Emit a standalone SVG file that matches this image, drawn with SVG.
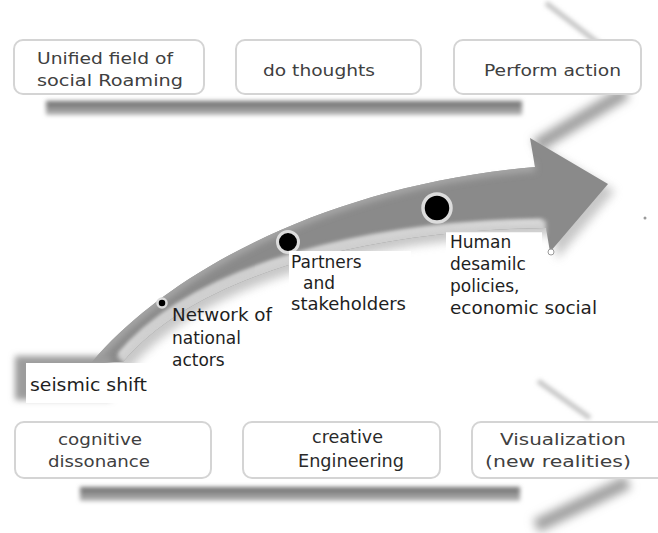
<svg xmlns="http://www.w3.org/2000/svg" width="658" height="533" viewBox="0 0 658 533">
  <defs>
    <style>
      .box { fill: #ffffff; stroke: #d4d4d4; stroke-width: 2; }
      .soft { font-family: "DejaVu Sans", Verdana, sans-serif; font-size: 15px; fill: #404040; }
      .crisp { font-family: "DejaVu Sans", Verdana, sans-serif; font-size: 17px; fill: #2a2a2a; }
      .lbl { font-family: "DejaVu Sans", Verdana, sans-serif; font-size: 17px; fill: #1e1e1e; }
      .panel { fill: #ffffff; }
      .dot { fill: #000000; stroke: #dcdcdc; }
    </style>
    <linearGradient id="barFade" x1="0" y1="0" x2="0" y2="1">
      <stop offset="0" stop-color="#6a6a6a"/>
      <stop offset="1" stop-color="#b8b8b8"/>
    </linearGradient>
    <filter id="blur2" x="-20%" y="-50%" width="140%" height="200%"><feGaussianBlur stdDeviation="2"/></filter>
    <filter id="blur3" x="-20%" y="-50%" width="140%" height="200%"><feGaussianBlur stdDeviation="3"/></filter>
    <filter id="blur5" x="-30%" y="-30%" width="160%" height="160%"><feGaussianBlur stdDeviation="5"/></filter>
    <clipPath id="bandClip">
      <path id="arrowShape" d="M 92 362 C 170 270, 330 185, 535 167 L 530 138 L 608 184 L 550 252 L 546 228 C 380 230, 200 270, 123 362 Z"/>
    </clipPath>
  </defs>

  <rect width="658" height="533" fill="#ffffff"/>

  <!-- chevron shadows behind the two process rows -->
  <g id="row-shadows">
    <rect x="46" y="101" width="476" height="14" fill="url(#barFade)" filter="url(#blur2)"/>
    <path d="M 546 3 L 602 46" stroke="#c4c4c4" stroke-width="5" fill="none" filter="url(#blur2)"/>
    <path d="M 626 92 L 536 146" stroke="#a0a0a0" stroke-width="14" fill="none" filter="url(#blur5)"/>
    <rect x="80" y="487" width="440" height="14" fill="url(#barFade)" filter="url(#blur2)"/>
    <path d="M 538 381 L 590 418" stroke="#c4c4c4" stroke-width="5" fill="none" filter="url(#blur2)"/>
    <path d="M 628 482 L 536 526" stroke="#a0a0a0" stroke-width="14" fill="none" filter="url(#blur5)"/>
  </g>

  <!-- top row -->
  <g id="unified-field">
    <rect class="box" x="14" y="40" width="190" height="54" rx="9"/>
    <text class="soft" x="37" y="64" textLength="136" lengthAdjust="spacingAndGlyphs">Unified field of</text>
    <text class="soft" x="37" y="86" textLength="146" lengthAdjust="spacingAndGlyphs">social Roaming</text>
  </g>
  <g id="do-thoughts">
    <rect class="box" x="236" y="40" width="185" height="54" rx="9"/>
    <text class="soft" x="263" y="76" textLength="112" lengthAdjust="spacingAndGlyphs">do thoughts</text>
  </g>
  <g id="perform-action">
    <rect class="box" x="454" y="40" width="187" height="54" rx="9"/>
    <text class="soft" x="484" y="76" textLength="137" lengthAdjust="spacingAndGlyphs">Perform action</text>
  </g>

  <!-- curved rising arrow -->
  <g id="arrow">
    <use href="#arrowShape" transform="translate(7,7)" fill="#9a9a9a" opacity="0.55" filter="url(#blur5)"/>
    <use href="#arrowShape" fill="#8a8a8a"/>
    <g clip-path="url(#bandClip)">
      <path d="M 92 362 C 170 270, 330 185, 535 167" stroke="#a6a6a6" stroke-width="9" fill="none" filter="url(#blur3)"/>
      <path d="M 546 228 C 380 230, 200 270, 123 362" stroke="#cfcfcf" stroke-width="15" fill="none" filter="url(#blur2)"/>
      <path d="M 542 221 C 376 223, 196 263, 119 355" stroke="#f2f2f2" stroke-width="3" fill="none" filter="url(#blur2)"/>
    </g>
    <circle class="dot" cx="162" cy="303" r="4.5" stroke-width="2.5"/>
    <circle class="dot" cx="288" cy="242" r="10.5" stroke-width="3"/>
    <circle class="dot" cx="437" cy="208" r="14" stroke-width="3.5"/>
    <circle cx="551" cy="252" r="3" fill="#ffffff" stroke="#9a9a9a" stroke-width="1"/>
    <circle cx="645" cy="218" r="1.5" fill="#9a9a9a"/>
  </g>

  <!-- milestones along the arrow -->
  <g id="seismic-shift">
    <rect x="15" y="356" width="96" height="44" fill="#9c9c9c" filter="url(#blur3)"/>
    <rect class="panel" x="26" y="363" width="150" height="40"/>
    <text class="lbl" x="30" y="391" textLength="117" lengthAdjust="spacingAndGlyphs">seismic shift</text>
  </g>
  <g id="network">
    <text class="lbl" x="172" y="321" textLength="100" lengthAdjust="spacingAndGlyphs">Network of</text>
    <text class="lbl" x="172" y="344">national</text>
    <text class="lbl" x="172" y="366">actors</text>
  </g>
  <g id="partners">
    <rect class="panel" x="289" y="251" width="122" height="66"/>
    <text class="lbl" x="291" y="268">Partners</text>
    <text class="lbl" x="303" y="289">and</text>
    <text class="lbl" x="291" y="310" textLength="115" lengthAdjust="spacingAndGlyphs">stakeholders</text>
  </g>
  <g id="human">
    <rect class="panel" x="446" y="231" width="96" height="90"/>
    <line x1="446" y1="231.5" x2="542" y2="231.5" stroke="#d0d0d0" stroke-width="1.5"/>
    <text class="lbl" x="450" y="248">Human</text>
    <text class="lbl" x="450" y="270">desamilc</text>
    <text class="lbl" x="450" y="292">policies,</text>
    <text class="lbl" x="450" y="314" textLength="147" lengthAdjust="spacingAndGlyphs">economic social</text>
  </g>

  <!-- bottom row -->
  <g id="cognitive-dissonance">
    <rect class="box" x="15" y="422" width="196" height="56" rx="9"/>
    <text class="soft" x="58" y="445" textLength="84" lengthAdjust="spacingAndGlyphs">cognitive</text>
    <text class="soft" x="48" y="467" textLength="102" lengthAdjust="spacingAndGlyphs">dissonance</text>
  </g>
  <g id="creative-engineering">
    <rect class="box" x="243" y="422" width="197" height="56" rx="9"/>
    <text class="crisp" x="312" y="443" textLength="71" lengthAdjust="spacingAndGlyphs">creative</text>
    <text class="crisp" x="298" y="467" textLength="106" lengthAdjust="spacingAndGlyphs">Engineering</text>
  </g>
  <g id="visualization">
    <rect class="box" x="472" y="422" width="200" height="56" rx="9"/>
    <text class="soft" x="500" y="445" textLength="126" lengthAdjust="spacingAndGlyphs">Visualization</text>
    <text class="soft" x="485" y="467" textLength="146" lengthAdjust="spacingAndGlyphs">(new realities)</text>
  </g>
</svg>
